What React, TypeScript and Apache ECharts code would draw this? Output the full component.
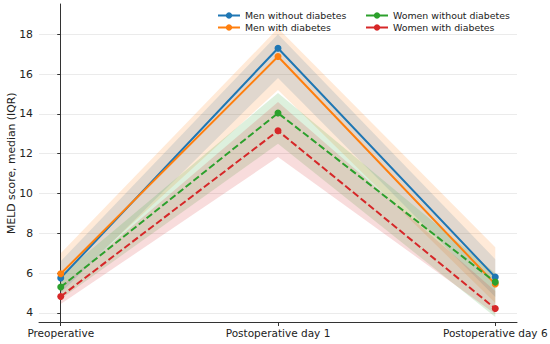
import React, { useEffect, useRef } from "react";
import * as echarts from "echarts";

const categories = ["Preoperative", "Postoperative day 1", "Postoperative day 6"];
const seriesNames = [
  "Men without diabetes",
  "Men with diabetes",
  "Women without diabetes",
  "Women with diabetes",
];
const menNoDiabetes = [5.76, 17.3, 5.8];
const menDiabetes = [5.97, 16.88, 5.45];
const womenNoDiabetes = [5.3, 14.04, 5.55];
const womenDiabetes = [4.83, 13.15, 4.22];

const menNoDiabetesLow = [5.0, 15.8, 4.8];
const menNoDiabetesHigh = [6.6, 18.0, 6.7];
const menDiabetesLow = [5.2, 15.2, 4.5];
const menDiabetesHigh = [7.0, 18.3, 7.3];
const womenNoDiabetesLow = [4.7, 12.5, 3.8];
const womenNoDiabetesHigh = [5.9, 15.05, 6.0];
const womenDiabetesLow = [4.45, 11.83, 3.95];
const womenDiabetesHigh = [5.3, 14.6, 5.1];

const yTicks = [4, 6, 8, 10, 12, 14, 16, 18];

const colors = ["#1f77b4", "#ff7f0e", "#2ca02c", "#d62728"];
const FONT = "DejaVu Sans";

export default function App() {
  const ref = useRef<HTMLDivElement>(null);
  useEffect(() => {
    if (!ref.current) return;
    const chart = echarts.init(ref.current, undefined, { renderer: "svg" });
    const medians = [menNoDiabetes, menDiabetes, womenNoDiabetes, womenDiabetes];
    const lows = [menNoDiabetesLow, menDiabetesLow, womenNoDiabetesLow, womenDiabetesLow];
    const highs = [menNoDiabetesHigh, menDiabetesHigh, womenNoDiabetesHigh, womenDiabetesHigh];

    const bandSeries = lows.map((low, k) => {
      const high = highs[k];
      const data = low.map((l, i) => [i, l, high[i]]);
      return {
        type: "custom",
        name: "band" + k,
        silent: true,
        z: 1,
        encode: { x: 0, y: [1, 2] },
        data,
        renderItem: (params: any, api: any) => {
          if (params.dataIndex !== 0) return null;
          const up = data.map((d) => api.coord([d[0], d[2]]));
          const lo = data.map((d) => api.coord([d[0], d[1]])).reverse();
          return {
            type: "polygon",
            shape: { points: up.concat(lo) },
            style: { fill: colors[k], opacity: 0.16 },
          };
        },
      };
    });

    const lineSeries = medians.map((vals, k) => ({
      type: "line",
      name: seriesNames[k],
      z: 3,
      data: vals.map((v, i) => [i, v]),
      symbol: "circle",
      symbolSize: 7,
      itemStyle: { color: colors[k] },
      lineStyle: { color: colors[k], width: 2, type: k >= 2 ? [7, 3] : "solid" },
    }));

    const legendCommon = {
      orient: "vertical",
      top: 6,
      padding: 5,
      itemWidth: 22,
      itemHeight: 8,
      itemGap: 3,
      textStyle: { fontFamily: FONT, fontSize: 9.4, color: "#222" },
      lineStyle: { type: "solid" },
    };

    chart.setOption({
      animation: false,
      grid: { left: 39, right: 33, top: 4, bottom: 21.5, outerBoundsMode: "none", containLabel: false },
      legend: [
        { ...legendCommon, left: 212, data: [seriesNames[0], seriesNames[1]] },
        { ...legendCommon, left: 360, data: [seriesNames[2], seriesNames[3]] },
      ],
      xAxis: {
        type: "value",
        min: -0.1,
        max: 2.1,
        axisLine: { show: true, lineStyle: { color: "#333", width: 1 } },
        axisTick: { show: true, length: 3.5, customValues: [0, 1, 2], lineStyle: { color: "#333" } },
        axisLabel: {
          customValues: [0, 1, 2],
          formatter: (v: number) => categories[Math.round(v)] ?? "",
          fontFamily: FONT,
          fontSize: 10.5,
          color: "#222",
          margin: 5,
        },
        splitLine: { show: false },
      },
      yAxis: {
        type: "value",
        min: 3.52,
        max: 19.52,
        name: "MELD score, median (IQR)",
        nameLocation: "middle",
        nameGap: 22,
        nameMoveOverlap: false,
        nameTextStyle: { fontFamily: FONT, fontSize: 10.8, color: "#222" },
        axisLine: { show: true, lineStyle: { color: "#333", width: 1 } },
        axisTick: { show: true, length: 3.5, customValues: yTicks, lineStyle: { color: "#333" } },
        axisLabel: {
          customValues: yTicks,
          fontFamily: FONT,
          fontSize: 10.8,
          color: "#222",
          margin: 6,
        },
        splitLine: { show: true, lineStyle: { color: "#ebebeb", width: 1 } },
      },
      series: [...bandSeries, ...lineSeries],
    });
    return () => chart.dispose();
  }, []);
  return (
    <div
      ref={ref}
      style={{ position: "fixed", left: 0, top: 0, width: 550, height: 344, background: "#fff" }}
    />
  );
}
